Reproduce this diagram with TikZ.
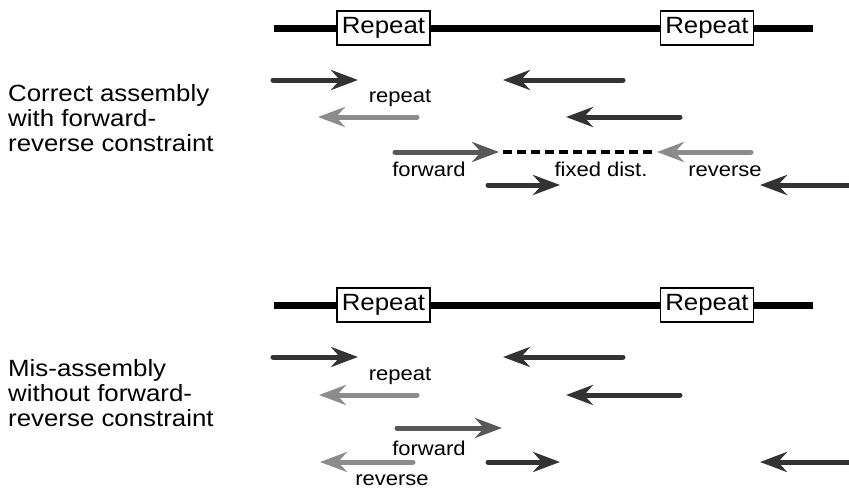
\documentclass[tikz,border=0pt]{standalone}
\usepackage{fontspec}
\setmainfont{Liberation Sans}[FakeStretch=1.1]
\usetikzlibrary{arrows.meta, positioning}
\definecolor{rDark}{HTML}{333333}
\definecolor{rMid}{HTML}{585858}
\definecolor{rLight}{HTML}{8C8C8C}

\begin{document}
\begin{tikzpicture}[x=1pt, y=-1pt,
      >={Stealth[length=27pt, width=20pt, inset=9pt]},
      read/.style={->, line width=5pt, line cap=round, rDark},
      genome/.style={line width=7pt, black},
      rep/.style={draw, line width=1.4pt, fill=white, minimum width=93pt,
                  minimum height=34pt, inner sep=0pt, font=\fontsize{23.5}{23.5}\selectfont},
      side/.style={align=left, anchor=west, inner sep=0pt,
                   font=\fontsize{23.5}{25}\selectfont},
      lbl/.style={inner sep=0pt, anchor=base, font=\fontsize{20}{20}\selectfont}]
    \useasboundingbox (0,0) rectangle (849,490);
    % correct assembly
    \node[side] (ok) at (8,118.5) {Correct assembly\\with forward-\\reverse constraint};
    \coordinate (g1l) at (274,28); \coordinate (g1r) at (813,28);
    \draw[genome] (g1l) -- (g1r);
    \node[rep] (r1a) at (383.5,28) {Repeat};
    \node[rep] (r1b) at (707,28) {Repeat};
    \draw[read] (273,80) -- (358,80);
    \draw[read] (623,80) -- (503,80);
    \node[lbl] (rp1) at (400,102) {repeat};
    \draw[read, rLight] (417,117) -- (318,117);
    \draw[read] (680,117) -- (566,117);
    \coordinate (f1) at (395,152); \coordinate (f1h) at (499,152);
    \coordinate (v1) at (751,152); \coordinate (v1h) at (657,152);
    \draw[read, rMid] (f1) -- (f1h);
    \draw[read, rLight] (v1) -- (v1h);
    \draw[line width=3.5pt, dash pattern=on 9pt off 5pt, shorten <=4pt, shorten >=4pt] (f1h) -- (v1h);
    \node[lbl] (fw1) at (429,176) {forward};
    \node[lbl] (fd1) at (601,176) {fixed dist.};
    \node[lbl] (rv1) at (725,176) {reverse};
    \draw[read] (488,185) -- (560,185);
    \draw[read] (852,185) -- (760,185);
    % mis-assembly
    \node[side] (bad) at (8,393.5) {Mis-assembly\\without forward-\\reverse constraint};
    \coordinate (g2l) at (274,305); \coordinate (g2r) at (813,305);
    \draw[genome] (g2l) -- (g2r);
    \node[rep] (r2a) at (383.5,305) {Repeat};
    \node[rep] (r2b) at (707,305) {Repeat};
    \draw[read] (273,357) -- (358,357);
    \draw[read] (623,357) -- (503,357);
    \node[lbl] (rp2) at (400,380) {repeat};
    \draw[read, rLight] (417,395) -- (319,395);
    \draw[read] (680,395) -- (566,395);
    \draw[read, rMid] (397,428) -- (502,428);
    \node[lbl] (fw2) at (429,455) {forward};
    \draw[read, rLight] (413,462) -- (320,462);
    \node[lbl] (rv2) at (392,485) {reverse};
    \draw[read] (488,462) -- (560,462);
    \draw[read] (852,462) -- (760,462);
\end{tikzpicture}
\end{document}
